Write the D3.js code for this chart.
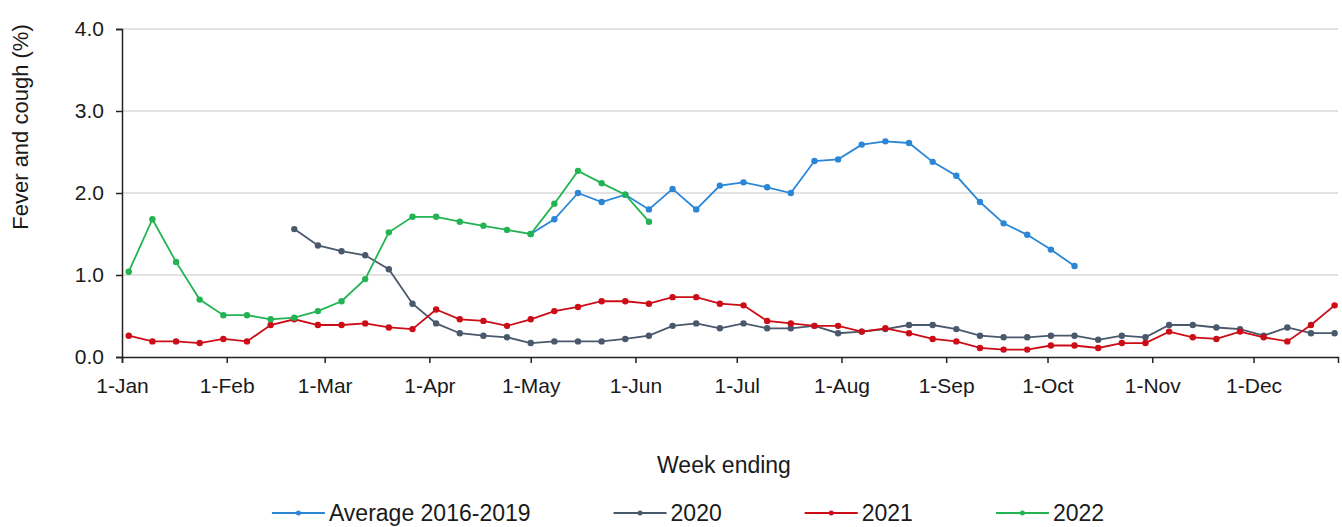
<!DOCTYPE html>
<html>
<head>
<meta charset="utf-8">
<script src="https://cdn.jsdelivr.net/npm/d3@7"></script>
<style>
  body { margin: 0; background: #fff; }
  svg { display: block; font-family: "Liberation Sans", Arial, sans-serif; }
  .axis text { fill: #1a1a1a; font-size: 21px; }
  .axis path, .axis line { stroke: #222; stroke-width: 1.5; }
</style>
</head>
<body>
<div id="chart"></div>
<script>
// weekly values, one per week ending; each series starts at a given week index
const seriesNames = ['Average 2016-2019', '2020', '2021', '2022'];
const seriesColors = ['#2b87d6', '#4a586c', '#cc0c16', '#22b452'];

const avgStart = 17;
const avgValues = [1.50, 1.68, 2.00, 1.89, 1.98, 1.80, 2.05, 1.80, 2.09, 2.13, 2.07, 2.00,
  2.39, 2.41, 2.59, 2.63, 2.61, 2.38, 2.21, 1.89, 1.63, 1.49, 1.31, 1.11];

const y2020Start = 7;
const y2020Values = [1.56, 1.36, 1.29, 1.24, 1.07, 0.65, 0.41,
  0.29, 0.26, 0.24, 0.17, 0.19, 0.19, 0.19, 0.22, 0.26,
  0.38, 0.41, 0.35, 0.41, 0.35, 0.35, 0.38, 0.29, 0.31, 0.34,
  0.39, 0.39, 0.34, 0.26, 0.24, 0.24, 0.26, 0.26, 0.21, 0.26, 0.24,
  0.39, 0.39, 0.36, 0.34, 0.26, 0.36, 0.29, 0.29];

const y2021Start = 0;
const y2021Values = [0.26, 0.19, 0.19, 0.17, 0.22, 0.19, 0.39, 0.46, 0.39, 0.39, 0.41, 0.36, 0.34, 0.58,
  0.46, 0.44, 0.38, 0.46, 0.56, 0.61, 0.68, 0.68, 0.65, 0.73, 0.73, 0.65, 0.63, 0.44, 0.41, 0.38, 0.38, 0.31, 0.35,
  0.29, 0.22, 0.19, 0.11, 0.09, 0.09, 0.14, 0.14, 0.11, 0.17, 0.17, 0.31, 0.24, 0.22, 0.31, 0.24, 0.19, 0.39, 0.63];

const y2022Start = 0;
const y2022Values = [1.04, 1.68, 1.16, 0.70, 0.51, 0.51, 0.46, 0.48, 0.56, 0.68, 0.95, 1.52, 1.71, 1.71,
  1.65, 1.60, 1.55, 1.50, 1.87, 2.27, 2.12, 1.98, 1.65];

const yTicks = [0, 1, 2, 3, 4];
const monthTicks = ['1-Jan', '1-Feb', '1-Mar', '1-Apr', '1-May', '1-Jun', '1-Jul', '1-Aug', '1-Sep', '1-Oct', '1-Nov', '1-Dec'];

const width = 1342, height = 527;
const margin = { top: 29, right: 4, bottom: 170, left: 122 };
const innerW = width - margin.left - margin.right;
const innerH = height - margin.top - margin.bottom;

const svg = d3.select('#chart').append('svg')
  .attr('width', width)
  .attr('height', height);

const g = svg.append('g')
  .attr('transform', `translate(${margin.left},${margin.top})`);

// date axis laid out on a 2020 calendar, weeks ending from 3-Jan
const parseTick = d3.timeParse('%d-%b-%Y');
const firstWeek = new Date(2020, 0, 3);
const weekDate = (i) => d3.timeDay.offset(firstWeek, i * 7);

const x = d3.scaleTime()
  .domain([new Date(2020, 0, 1), new Date(2020, 11, 26)])
  .range([0, innerW]);

const y = d3.scaleLinear()
  .domain([0, 4])
  .range([innerH, 0]);

// gridlines
g.append('g')
  .selectAll('line')
  .data(yTicks.filter((d) => d > 0))
  .join('line')
  .attr('x1', 0)
  .attr('x2', innerW)
  .attr('y1', (d) => y(d))
  .attr('y2', (d) => y(d))
  .attr('stroke', '#d9d9d9')
  .attr('stroke-width', 1.5);

const yAxis = d3.axisLeft(y)
  .tickValues(yTicks)
  .tickFormat(d3.format('.1f'))
  .tickSizeOuter(0)
  .tickSize(6)
  .tickPadding(12);

g.append('g')
  .attr('class', 'axis y-axis')
  .call(yAxis);

const xAxis = d3.axisBottom(x)
  .tickValues(monthTicks.map((m) => parseTick(m + '-2020')))
  .tickFormat(d3.timeFormat('%-d-%b'))
  .tickSizeOuter(0)
  .tickSize(6)
  .tickPadding(10);

g.append('g')
  .attr('class', 'axis x-axis')
  .attr('transform', `translate(0,${innerH})`)
  .call(xAxis)
  .call((sel) => sel.selectAll('text').attr('dy', '0.95em'));

// series
const series = [
  { start: avgStart, values: avgValues },
  { start: y2020Start, values: y2020Values },
  { start: y2021Start, values: y2021Values },
  { start: y2022Start, values: y2022Values },
].map((s, k) => ({
  name: seriesNames[k],
  color: seriesColors[k],
  points: s.values.map((v, i) => ({ date: weekDate(s.start + i), value: v })),
}));

const line = d3.line()
  .x((d) => x(d.date))
  .y((d) => y(d.value));

// draw 2020 and 2021 under the others
const drawOrder = [1, 2, 0, 3];
drawOrder.forEach((k) => {
  const s = series[k];
  const sg = g.append('g');
  sg.append('path')
    .datum(s.points)
    .attr('fill', 'none')
    .attr('stroke', s.color)
    .attr('stroke-width', 1.8)
    .attr('d', line);
  sg.selectAll('circle')
    .data(s.points)
    .join('circle')
    .attr('cx', (d) => x(d.date))
    .attr('cy', (d) => y(d.value))
    .attr('r', 3.2)
    .attr('fill', s.color);
});

// axis titles
svg.append('text')
  .attr('transform', `translate(28,${margin.top + 98}) rotate(-90)`)
  .attr('text-anchor', 'middle')
  .attr('font-size', 22)
  .attr('fill', '#1a1a1a')
  .text('Fever and cough (%)');

svg.append('text')
  .attr('x', 724)
  .attr('y', 473)
  .attr('text-anchor', 'middle')
  .attr('font-size', 23)
  .attr('fill', '#1a1a1a')
  .text('Week ending');

// legend
const legend = svg.append('g').attr('transform', 'translate(0,513)');
const items = legend.selectAll('g')
  .data(series)
  .join('g');

items.append('line')
  .attr('x1', 0).attr('x2', 53)
  .attr('stroke', (d) => d.color)
  .attr('stroke-width', 2);
items.append('circle')
  .attr('cx', 26.5).attr('r', 2.5)
  .attr('fill', (d) => d.color);
items.append('text')
  .attr('x', 57)
  .attr('dy', '0.35em')
  .attr('font-size', 23)
  .attr('fill', '#1a1a1a')
  .text((d) => d.name);

const gap = 83;
let total = 0;
const widths = [];
items.each(function () {
  const w = this.getBBox().width;
  widths.push(w);
  total += w;
});
total += gap * (widths.length - 1);
let cx = 688 - total / 2;
items.attr('transform', (d, i) => {
  const t = `translate(${cx},0)`;
  cx += widths[i] + gap;
  return t;
});
</script>
</body>
</html>
